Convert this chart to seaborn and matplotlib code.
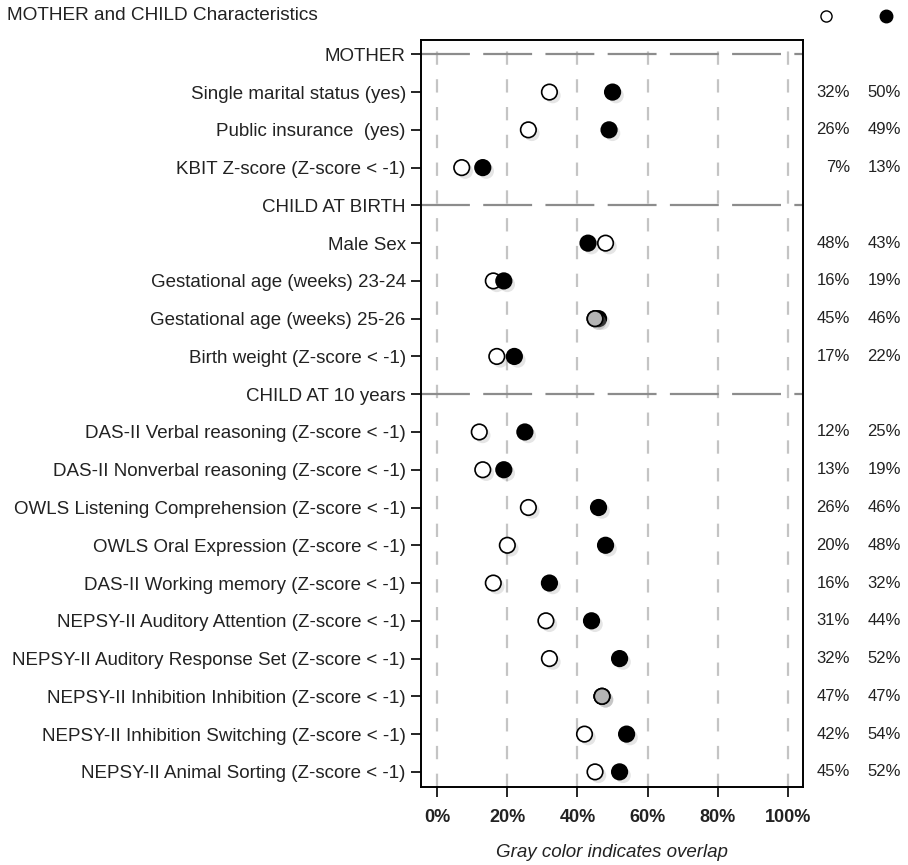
import numpy as np
import pandas as pd
import matplotlib
matplotlib.use("Agg")
import matplotlib.pyplot as plt
import matplotlib.patheffects as pe
import matplotlib.transforms as mtransforms
import seaborn as sns

# rows top to bottom; None marks a section header
labels = [
    "MOTHER",
    "Single marital status (yes)",
    "Public insurance  (yes)",
    "KBIT Z-score (Z-score < -1)",
    "CHILD AT BIRTH",
    "Male Sex",
    "Gestational age (weeks) 23-24",
    "Gestational age (weeks) 25-26",
    "Birth weight (Z-score < -1)",
    "CHILD AT 10 years",
    "DAS-II Verbal reasoning (Z-score < -1)",
    "DAS-II Nonverbal reasoning (Z-score < -1)",
    "OWLS Listening Comprehension (Z-score < -1)",
    "OWLS Oral Expression (Z-score < -1)",
    "DAS-II Working memory (Z-score < -1)",
    "NEPSY-II Auditory Attention (Z-score < -1)",
    "NEPSY-II Auditory Response Set (Z-score < -1)",
    "NEPSY-II Inhibition Inhibition (Z-score < -1)",
    "NEPSY-II Inhibition Switching (Z-score < -1)",
    "NEPSY-II Animal Sorting (Z-score < -1)",
]
headers = ["MOTHER", "CHILD AT BIRTH", "CHILD AT 10 years"]
open_vals = [None, 32, 26, 7, None, 48, 16, 45, 17, None,
             12, 13, 26, 20, 16, 31, 32, 47, 42, 45]
filled_vals = [None, 50, 49, 13, None, 43, 19, 46, 22, None,
               25, 19, 46, 48, 32, 44, 52, 47, 54, 52]
xticks = [0, 20, 40, 60, 80, 100]

pos = np.arange(len(labels))
rows = []
for grp, vals in [("open", open_vals), ("filled", filled_vals)]:
    for p, v in zip(pos, vals):
        if v is not None:
            rows.append({"pos": p, "value": v, "group": grp})
df = pd.DataFrame(rows)
# overlapping pairs get drawn gray
ov = pd.DataFrame([{"pos": p, "value": a} for p, a, b in zip(pos, open_vals, filled_vals)
                   if a is not None and abs(a - b) <= 1])

sns.set_style("white")
plt.rcParams["font.family"] = ["Liberation Sans", "DejaVu Sans"]
txt = "#222222"

fig = plt.figure(figsize=(9.08, 8.65), dpi=100)
ax = fig.add_axes([0.4637, 0.0902, 0.4207, 0.8636])

for x in xticks:
    ax.axvline(x, color="#c4c4c4", lw=1.6, ls=(0, (6, 6.5)), zorder=0)
for h in headers:
    ax.axhline(labels.index(h), color="#8c8c8c", lw=1.6, ls=(0, (22, 6)), zorder=0)

shadow = [pe.SimplePatchShadow(offset=(2.5, -2.5), shadow_rgbFace="#aaaaaa", alpha=0.3), pe.Normal()]
sns.scatterplot(data=df, x="value", y="pos", hue="group", palette={"open": "white", "filled": "black"},
                s=125, edgecolor="black", linewidth=1.2, legend=False, ax=ax, zorder=3)
ax.collections[-1].set_path_effects(shadow)
sns.scatterplot(data=ov, x="value", y="pos", color="#b4b4b4", s=125, edgecolor="black",
                linewidth=1.2, legend=False, ax=ax, zorder=4)
ax.collections[-1].set_path_effects(shadow)

ax.set_xlim(-4.6, 104.3)
ax.set_ylim(len(labels) - 1 + 0.4, -0.38)
ax.set_yticks(pos)
ax.set_yticklabels(labels, fontsize=13.5, color=txt)
ax.set_xticks(xticks)
ax.set_xticklabels([f"{x}%" for x in xticks], fontsize=13, fontweight="bold", color=txt)
ax.tick_params(axis="both", direction="out", length=7, width=1.2, color="black", pad=4, left=True, bottom=True)
ax.tick_params(axis="x", pad=9)
ax.set_xlabel("Gray color indicates overlap", fontsize=13.5, fontstyle="italic", color=txt, labelpad=13)
ax.set_ylabel("")
for sp in ax.spines.values():
    sp.set_color("black")
    sp.set_linewidth(1.4)

# percentage columns on the right
tr = mtransforms.blended_transform_factory(fig.transFigure, ax.transData)
for p, a, b in zip(pos, open_vals, filled_vals):
    if a is None:
        continue
    fig.text(850 / 908, p, f"{a}%", transform=tr, ha="right", va="center", fontsize=12, color=txt)
    fig.text(901 / 908, p, f"{b}%", transform=tr, ha="right", va="center", fontsize=12, color=txt)

# title and legend symbols
fig.text(0.008, 1 - 16 / 865, "MOTHER and CHILD Characteristics", ha="left", va="center",
         fontsize=13.7, color=txt)
fig.add_artist(plt.Line2D([826 / 908], [1 - 16 / 865], marker="o", ms=8, mfc="white", mec="black",
                          mew=1.0, ls="none", transform=fig.transFigure))
fig.add_artist(plt.Line2D([886 / 908], [1 - 16 / 865], marker="o", ms=9, mfc="black", mec="black",
                          ls="none", transform=fig.transFigure))

fig.savefig("out.png", dpi=100)
